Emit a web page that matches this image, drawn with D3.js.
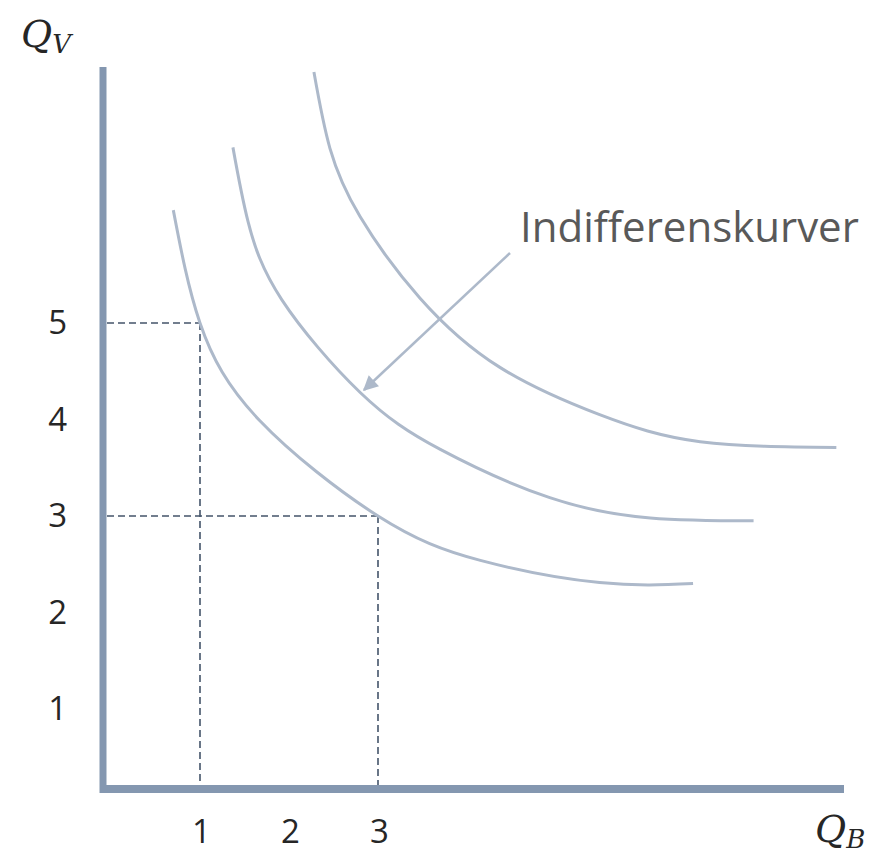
<!DOCTYPE html>
<html>
<head>
<meta charset="utf-8">
<script src="https://cdn.jsdelivr.net/npm/d3@7"></script>
<style>
  body { margin: 0; background: #fff; }
  svg { display: block; }
</style>
</head>
<body>
<div id="chart"></div>
<script>
// tick labels
const xTicks = [1, 2, 3];
const yTicks = [1, 2, 3, 4, 5];

// indifference curves (Q_B, Q_V)
const curveLow = [
  [0.70, 6.17], [1.0, 5.0], [1.67, 3.99], [3.0, 3.0],
  [4.15, 2.54], [5.49, 2.31], [6.54, 2.30]
];
const curveMid = [
  [1.37, 6.82], [1.54, 6.05], [1.92, 5.24], [2.80, 4.28],
  [3.70, 3.69], [4.93, 3.19], [6.06, 2.98], [7.22, 2.95]
];
const curveHigh = [
  [2.28, 7.60], [2.46, 6.81], [2.80, 6.10], [3.47, 5.26],
  [4.37, 4.54], [5.49, 4.05], [6.62, 3.77], [8.15, 3.71]
];
const curves = [curveLow, curveMid, curveHigh];

// the two marked bundles (1,5) and (3,3)
const bundles = [[1, 5], [3, 3]];

const labelText = "Indifferenskurver";

function init() {
    let width = 889, height = 860;
    let svg = d3.select("#chart").append("svg")
        .attr("width", width)
        .attr("height", height);

    let x = d3.scaleLinear().domain([0, 8]).range([111, 823]);
    let y = d3.scaleLinear().domain([0, 8]).range([805.5, 33.5]);

    // where the two axis lines sit
    let axisLeftX = 103, axisBottomY = 789;

    // dashed guide lines
    bundles.forEach(b => {
        svg.append("line")
            .attr("x1", axisLeftX + 4).attr("y1", y(b[1]))
            .attr("x2", x(b[0])).attr("y2", y(b[1]))
            .attr("stroke", "#44546a").attr("stroke-width", 1.6)
            .attr("stroke-dasharray", "7,4");
        svg.append("line")
            .attr("x1", x(b[0])).attr("y1", y(b[1]))
            .attr("x2", x(b[0])).attr("y2", axisBottomY - 4)
            .attr("stroke", "#44546a").attr("stroke-width", 1.6)
            .attr("stroke-dasharray", "7,4");
    });

    // curves
    let line = d3.line()
        .x(d => x(d[0]))
        .y(d => y(d[1]))
        .curve(d3.curveNatural);

    svg.selectAll(".curve")
        .data(curves)
        .join("path")
        .attr("class", "curve")
        .attr("d", line)
        .attr("fill", "none")
        .attr("stroke", "#adb9ca")
        .attr("stroke-width", 3);

    // axes
    svg.append("line")
        .attr("x1", axisLeftX).attr("y1", 67)
        .attr("x2", axisLeftX).attr("y2", axisBottomY + 4)
        .attr("stroke", "#8497b0").attr("stroke-width", 7);
    svg.append("line")
        .attr("x1", 100).attr("y1", axisBottomY)
        .attr("x2", 844).attr("y2", axisBottomY)
        .attr("stroke", "#8497b0").attr("stroke-width", 8);

    // tick labels
    let yAxis = svg.append("g")
        .attr("transform", "translate(67,0)")
        .call(d3.axisLeft(y).tickValues(yTicks).tickSize(0).tickPadding(0));
    let xAxis = svg.append("g")
        .attr("transform", "translate(1,820)")
        .call(d3.axisBottom(x).tickValues(xTicks).tickSize(0).tickPadding(0));
    [xAxis, yAxis].forEach(g => {
        g.select(".domain").remove();
        g.selectAll("text")
            .attr("font-family", "'Open Sans', sans-serif")
            .attr("font-size", 33)
            .attr("fill", "#262626");
    });

    // axis titles
    let qv = svg.append("text")
        .attr("x", 21).attr("y", 47)
        .attr("font-family", "'DejaVu Serif', serif")
        .attr("font-style", "italic")
        .attr("font-size", 38)
        .attr("fill", "#262626");
    qv.append("tspan").text("Q");
    qv.append("tspan").attr("font-size", 26).attr("dy", 6).text("V");

    let qb = svg.append("text")
        .attr("x", 815).attr("y", 842)
        .attr("font-family", "'DejaVu Serif', serif")
        .attr("font-style", "italic")
        .attr("font-size", 38)
        .attr("fill", "#262626");
    qb.append("tspan").text("Q");
    qb.append("tspan").attr("font-size", 26).attr("dy", 6).text("B");

    // annotation with arrow
    svg.append("defs").append("marker")
        .attr("id", "arrow")
        .attr("viewBox", "0 0 10 10")
        .attr("refX", 9).attr("refY", 5)
        .attr("markerWidth", 7).attr("markerHeight", 6)
        .attr("orient", "auto")
        .append("path")
        .attr("d", "M0,0 L10,5 L0,10 z")
        .attr("fill", "#adb9ca");

    svg.append("line")
        .attr("x1", 510).attr("y1", 253)
        .attr("x2", 364).attr("y2", 390)
        .attr("stroke", "#adb9ca").attr("stroke-width", 2.5)
        .attr("marker-end", "url(#arrow)");

    svg.append("text")
        .attr("x", 520).attr("y", 242)
        .attr("font-family", "'Open Sans', sans-serif")
        .attr("font-size", 42)
        .attr("fill", "#595959")
        .text(labelText);
}
window.onload = init;
</script>
</body>
</html>
